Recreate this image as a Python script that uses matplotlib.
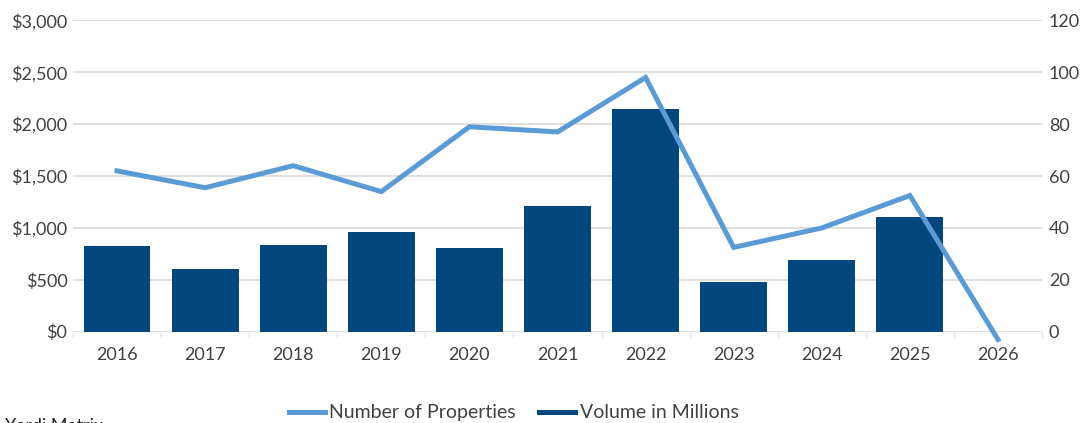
import matplotlib
matplotlib.use("Agg")
import matplotlib.pyplot as plt
from matplotlib.lines import Line2D
from matplotlib.ticker import FuncFormatter, MultipleLocator
import numpy as np

plt.rcParams['font.family'] = ['Lato', 'DejaVu Sans']

# data
years = ['2016', '2017', '2018', '2019', '2020', '2021', '2022', '2023', '2024', '2025', '2026']
volume = [826, 604, 835, 960, 806, 1211, 2145, 482, 691, 1108, 0]      # $ millions
properties = [62, 55.5, 64, 54, 79, 77, 98, 32.5, 40, 52.5, -3]          # count

barColor = '#00477f'
lineColor = '#5b9bd5'
gridColor = '#d9d9d9'
textColor = '#404040'

fig = plt.figure(figsize=(10.84, 4.23), dpi=100)
ax1 = fig.add_axes([0.0673, 0.2158, 0.894, 0.736])
x = np.arange(len(years))

ax1.bar(x, volume, width=0.76, color=barColor, zorder=2)
ax1.set_xlim(-0.5, len(years) - 0.5)
ax1.set_ylim(0, 3000)
ax1.yaxis.set_major_locator(MultipleLocator(500))
ax1.yaxis.set_major_formatter(FuncFormatter(lambda v, p: '${:,.0f}'.format(v)))
ax1.grid(axis='y', color=gridColor, linewidth=1.2, zorder=0)
ax1.set_axisbelow(True)
for s in ax1.spines.values():
    s.set_visible(False)
ax1.set_xticks(x)
ax1.set_xticklabels(years)
ax1.set_xticks(np.arange(-0.5, len(years), 1), minor=True)
ax1.tick_params(axis='x', which='major', length=0, pad=11, labelsize=13, labelcolor=textColor)
ax1.tick_params(axis='x', which='minor', length=4, color='#e6e6e6', width=1)
ax1.tick_params(axis='y', length=0, pad=4, labelsize=13, labelcolor=textColor)

ax2 = ax1.twinx()
ax2.plot(x, properties, color=lineColor, linewidth=3.6, solid_joinstyle='miter',
         clip_on=False, zorder=3)
ax2.set_ylim(0, 120)
ax2.yaxis.set_major_locator(MultipleLocator(20))
for s in ax2.spines.values():
    s.set_visible(False)
ax2.tick_params(axis='y', length=0, pad=5, labelsize=13, labelcolor=textColor)

handles = [Line2D([], [], color=lineColor, linewidth=3.6),
           Line2D([], [], color=barColor, linewidth=3.6)]
fig.legend(handles, ['Number of Properties', 'Volume in Millions'], loc='center',
           bbox_to_anchor=(0.474, 0.024), ncol=2, frameon=False, fontsize=14,
           handlelength=1.85, handletextpad=0.25, columnspacing=1.2, labelcolor=textColor)

fig.text(0.005, 0.012, 'Yardi Matrix', ha='left', va='top', fontsize=13, color='#222222')

fig.savefig('out.png', dpi=100)
